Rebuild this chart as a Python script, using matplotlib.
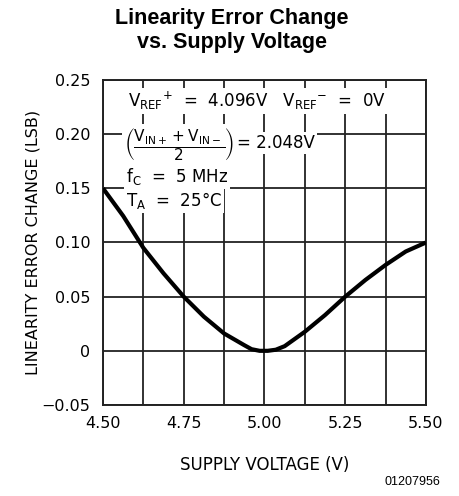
import matplotlib
matplotlib.use('Agg')
import matplotlib.pyplot as plt
import numpy as np

# Datos
supply_v = [4.50, 4.5625, 4.625, 4.6875, 4.75, 4.8125, 4.875, 4.9375, 4.96, 4.985,
            5.01, 5.035, 5.0625, 5.125, 5.1875, 5.25, 5.3125, 5.375, 5.4375, 5.50]
lin_err = [0.150, 0.1245, 0.095, 0.0715, 0.050, 0.0315, 0.016, 0.0052, 0.0015, 0.0,
           0.0, 0.001, 0.0043, 0.0176, 0.033, 0.050, 0.0654, 0.0793, 0.0917, 0.100]

x_ticks = [4.50, 4.75, 5.00, 5.25, 5.50]
x_ticklabels = ['4.50', '4.75', '5.00', '5.25', '5.50']
y_ticks = [-0.05, 0, 0.05, 0.10, 0.15, 0.20, 0.25]
y_ticklabels = ['\u22120.05', '0', '0.05', '0.10', '0.15', '0.20', '0.25']

plt.rcParams['font.family'] = ['DejaVu Sans']
plt.rcParams['mathtext.fontset'] = 'dejavusans'

fig = plt.figure(figsize=(4.59, 4.96), dpi=100)
ax = fig.add_axes([0.2244, 0.1835, 0.7036, 0.6552])

# Rejilla cada 0.125 V y 0.05 LSB
ax.set_xticks(np.arange(4.5, 5.5001, 0.125), minor=True)
ax.grid(True, which='both', color='#222222', linewidth=1.3)
ax.tick_params(which='both', length=0)

ax.plot(supply_v, lin_err, color='black', linewidth=3.0, zorder=5,
        solid_joinstyle='round', solid_capstyle='butt')

ax.set_xlim(4.5, 5.5)
ax.set_ylim(-0.05, 0.25)
ax.set_xticks(x_ticks)
ax.set_xticklabels(x_ticklabels, fontsize=11.5)
ax.set_yticks(y_ticks)
ax.set_yticklabels(y_ticklabels, fontsize=11.5)
ax.tick_params(axis='x', pad=8)
ax.tick_params(axis='y', pad=9)
for s in ax.spines.values():
    s.set_linewidth(1.4)
    s.set_color('#222222')

ax.set_xlabel('SUPPLY VOLTAGE (V)', fontsize=12)
ax.set_ylabel('LINEARITY ERROR CHANGE (LSB)', fontsize=11.5)
ax.xaxis.set_label_coords(0.5, -0.157)
ax.yaxis.set_label_coords(-0.195, 0.5)

fig.text(0.505, 0.984, 'Linearity Error Change\nvs. Supply Voltage', ha='center',
         va='top', fontsize=15.5, fontweight='bold', family='Liberation Sans',
         linespacing=1.2)
fig.text(0.96, 0.016, '01207956', ha='right', va='bottom', fontsize=9,
         family='Liberation Sans')

box = dict(facecolor='white', edgecolor='none', pad=1.5)
ax.text(4.577, 0.2306, r'$\mathrm{V_{REF}}^{+}$  =  4.096V   $\mathrm{V_{REF}}^{-}$  =  0V',
        fontsize=12, va='center', ha='left', bbox=box, zorder=4)
ax.text(4.566, 0.1905, r'$\left(\dfrac{\mathrm{V_{IN+}} + \mathrm{V_{IN-}}}{2}\right)$',
        fontsize=11, va='center', ha='left', bbox=box, zorder=4)
ax.text(4.915, 0.1918, '= 2.048V', fontsize=12, va='center', ha='left',
        bbox=box, zorder=4)
ax.text(4.571, 0.1605, r'$\mathrm{f_C}$  =  5 MHz', fontsize=12, va='center',
        ha='left', bbox=box, zorder=4)
ax.text(4.571, 0.1392, r'$\mathrm{T_A}$  =  25°C', fontsize=12, va='center',
        ha='left', bbox=box, zorder=4)

plt.savefig('out.png', dpi=100)
